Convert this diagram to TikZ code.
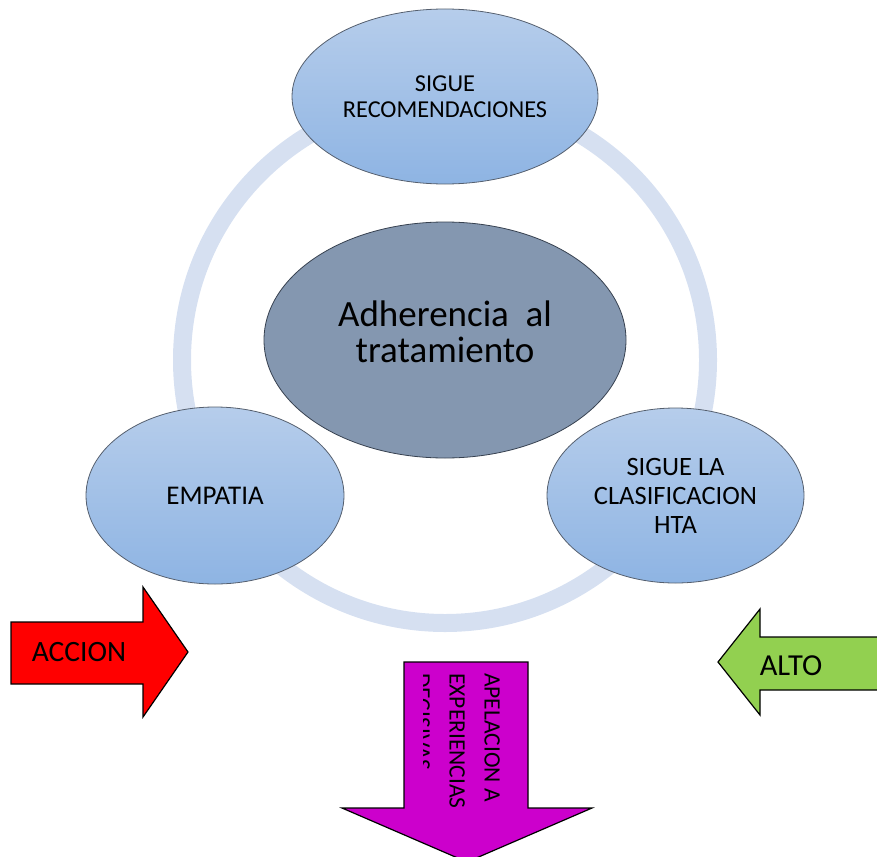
\documentclass[tikz,border=0pt]{standalone}
\usepackage{fontspec}
\setmainfont{Carlito}
\usetikzlibrary{shapes.geometric}
\definecolor{ringc}{RGB}{214,224,241}
\definecolor{ellA}{RGB}{182,205,235}
\definecolor{ellB}{RGB}{142,180,227}
\definecolor{ellLine}{RGB}{85,95,110}
\definecolor{centc}{RGB}{132,151,176}
\definecolor{centLine}{RGB}{55,65,80}
\definecolor{redc}{RGB}{255,0,0}
\definecolor{greenc}{RGB}{146,208,80}
\definecolor{purplec}{RGB}{204,0,204}
\begin{document}
\begin{tikzpicture}[x=1pt,y=-1pt,
  sat/.style={ellipse, draw=ellLine, line width=0.8pt, top color=ellA, bottom color=ellB,
    inner sep=0pt, align=center, text=black},
  arrowshape/.style={draw=black, line width=1.2pt, line join=miter},
  arrtext/.style={inner sep=0pt, text=black}
]
\useasboundingbox (0,0) rectangle (877,856);
% ring
\draw[ringc, line width=18pt] (445,360) circle[radius=263];
% satellite ellipses
\node[sat, minimum width=306pt, minimum height=175pt, font=\fontsize{24.3}{26.5}\selectfont]
  (rec) at (445,96.5) {SIGUE\\RECOMENDACIONES};
\node[sat, minimum width=258pt, minimum height=177pt, font=\fontsize{27}{29}\selectfont]
  (emp) at (215,495.5) {EMPATIA};
\node[sat, minimum width=257pt, minimum height=175pt, font=\fontsize{26.5}{29}\selectfont]
  (hta) at (675.5,495.5) {SIGUE LA\\CLASIFICACION\\HTA};
% center
\node[ellipse, draw=centLine, line width=0.8pt, fill=centc, minimum width=362pt, minimum height=236pt,
  inner sep=0pt] (adh) at (445,340) {};
\node[inner sep=0pt, align=center, font=\fontsize{37}{36}\selectfont]
  (adhtext) at (445,332) {Adherencia\ \ al\\tratamiento};
% red arrow
\draw[arrowshape, fill=redc] (11,622) -- (143,622) -- (143,587) -- (188,652) -- (143,717) -- (143,684) -- (11,684) -- cycle;
\node[arrtext, font=\fontsize{29.5}{34}\selectfont] (accion) at (79,652) {ACCION};
% green arrow
\draw[arrowshape, fill=greenc] (895,637) -- (760,637) -- (760,609) -- (718,662) -- (760,715) -- (760,690) -- (895,690) -- cycle;
\node[arrtext, font=\fontsize{30.5}{34}\selectfont] (alto) at (791,666) {ALTO};
% purple arrow
\draw[arrowshape, fill=purplec] (404,662) -- (528,662) -- (528,808) -- (592,808) -- (467,862) -- (342,808) -- (404,808) -- cycle;
\begin{scope}
  \clip (423,664) rectangle (527,806);
  \node[rotate=-90, anchor=north west, inner sep=0pt, align=left, font=\fontsize{23.5}{35}\selectfont]
    (apel) at (500,673) {APELACION A\\EXPERIENCIAS\\DECISIVAS};
\end{scope}
\end{tikzpicture}
\end{document}
